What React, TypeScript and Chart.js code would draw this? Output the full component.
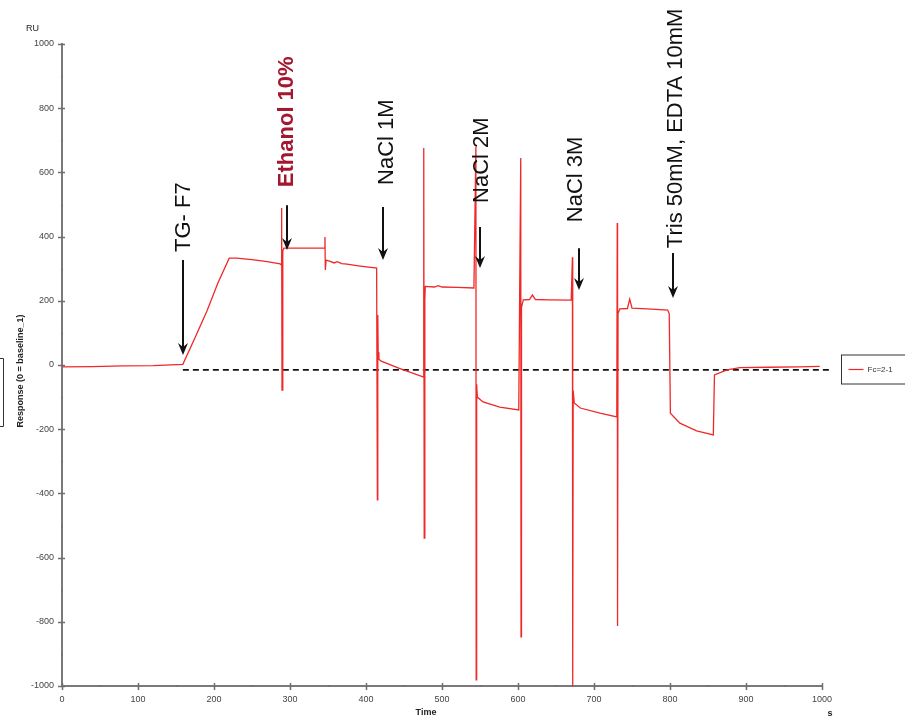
import React, { useEffect, useRef } from "react";
import { Chart, registerables } from "chart.js";

Chart.register(...registerables);

// Sensorgram time (s) and response (RU)
const times = [
  0, 40, 80, 120, 159,
  175, 191, 205, 220, 230, 250, 270, 287,
  288.6, 289, 289.5, 290.5, 292, 320, 345.5,
  346, 346.5, 347.5, 353, 358, 362, 368, 375, 390, 414,
  415, 415.5, 416, 417, 420, 443, 475,
  476, 476.6, 477.4, 478, 490, 495, 500, 520, 542,
  544.6, 545, 545.6, 546.5, 554, 576, 601,
  603.6, 604, 604.6, 607, 615, 619, 623, 640, 670,
  671.6, 672, 672.6, 674, 682, 708, 730,
  730.6, 731, 731.6, 734, 744, 747, 750, 770, 797,
  799, 800.5, 813, 835, 857,
  858.5, 875, 892, 930, 970, 997,
];
const responses = [
  -6, -5, -3, -2, 2,
  85, 170, 255, 333, 333, 328, 322, 315,
  312, 489, -78, 355, 364, 364, 364,
  399, 296, 327, 323, 318, 322, 316, 314, 309, 302,
  -420, 156, 40, 18, 12, -10, -37,
  676, -539, 200, 245, 243, 247, 243, 242, 240,
  680, -981, -60, -100, -115, -131, -140,
  645, -847, 180, 203, 204, 218, 204, 203, 202,
  336, -1000, -80, -118, -134, -150, -162,
  442, -813, 160, 175, 176, 205, 177, 175, 171,
  160, -150, -181, -205, -218,
  -31, -15, -8, -7, -6, -4,
];

// Dashed reference line
const refTimes = [159, 1013];
const refValues = [-15, -15];

// Annotations
const annLabels = ["TG- F7", "Ethanol 10%", "NaCl 1M", "NaCl 2M", "NaCl 3M", "Tris 50mM, EDTA 10mM"];
const annTextTimes = [158.6, 294.7, 426, 551, 675, 807];
const annTextBase = [352, 554, 561, 505, 445, 364];
const annArrowTimes = [159, 296, 422, 550, 680, 804];
const annArrowTop = [327, 498, 492, 430, 364, 349];
const annArrowTip = [31, 358, 327, 302, 234, 209];
const annHighlight = [false, true, false, false, false, false];

const seriesLabel = "Fc=2-1";
const yTicksMajor = 200;
const yTicksMinor = 100;
const xTicksMajor = 100;
const xTicksMinor = 50;

const FONT = "Arial, 'Liberation Sans', sans-serif";

const decorPlugin = {
  id: "decor",
  afterDraw(chart: any) {
    const ctx = chart.ctx;
    const { left, right, top, bottom } = chart.chartArea;
    const xs = chart.scales.x;
    const ys = chart.scales.y;
    ctx.save();
    // ticks
    ctx.strokeStyle = "#6e6e6e";
    for (let v = -1000; v <= 1000; v += yTicksMinor) {
      const py = Math.round(ys.getPixelForValue(v)) + 0.5;
      const major = v % yTicksMajor === 0;
      ctx.lineWidth = 1.5;
      ctx.beginPath();
      if (major) {
        ctx.moveTo(left - 4, py);
        ctx.lineTo(left + 3, py);
      } else {
        ctx.moveTo(left - 1, py);
        ctx.lineTo(left + 1, py);
      }
      ctx.stroke();
    }
    for (let v = 0; v <= 1000; v += xTicksMinor) {
      const px = Math.round(xs.getPixelForValue(v)) + 0.5;
      const major = v % xTicksMajor === 0;
      ctx.lineWidth = 1.5;
      ctx.beginPath();
      if (major) {
        ctx.moveTo(px, bottom - 3);
        ctx.lineTo(px, bottom + 4);
      } else {
        ctx.moveTo(px, bottom - 1);
        ctx.lineTo(px, bottom + 1);
      }
      ctx.stroke();
    }

    // axis titles
    ctx.fillStyle = "#222";
    ctx.font = `9px ${FONT}`;
    ctx.textAlign = "left";
    ctx.textBaseline = "middle";
    ctx.fillText("RU", 26, 29);
    ctx.font = `bold 9px ${FONT}`;
    ctx.textAlign = "center";
    ctx.fillText("Time", 426, 713);
    ctx.fillText("s", right + 8, 714);
    ctx.save();
    ctx.translate(21, (top + bottom) / 2 + 6);
    ctx.rotate(-Math.PI / 2);
    ctx.font = `bold 9px ${FONT}`;
    ctx.fillText("Response (0 = baseline_1)", 0, 0);
    ctx.restore();

    // left cut-off box fragment
    ctx.strokeStyle = "#333";
    ctx.lineWidth = 1;
    ctx.beginPath();
    ctx.moveTo(0, 358.5);
    ctx.lineTo(3.5, 358.5);
    ctx.lineTo(3.5, 426.5);
    ctx.lineTo(0, 426.5);
    ctx.stroke();

    // legend box
    const yc = (top + bottom) / 2 + 4.5;
    const lx = right + 19.5;
    ctx.strokeStyle = "#333";
    ctx.lineWidth = 1;
    ctx.strokeRect(lx, yc - 14.5, 80, 29);
    ctx.strokeStyle = "rgb(240,40,40)";
    ctx.lineWidth = 1.2;
    ctx.beginPath();
    ctx.moveTo(lx + 7, yc);
    ctx.lineTo(lx + 22, yc);
    ctx.stroke();
    ctx.fillStyle = "#333";
    ctx.font = `8px ${FONT}`;
    ctx.textAlign = "left";
    ctx.textBaseline = "middle";
    ctx.fillText(seriesLabel, lx + 26, yc);

    // annotations
    for (let i = 0; i < annLabels.length; i++) {
      const tx = xs.getPixelForValue(annTextTimes[i]);
      const ty = ys.getPixelForValue(annTextBase[i]);
      ctx.save();
      ctx.translate(tx, ty);
      ctx.rotate(-Math.PI / 2);
      ctx.font = annHighlight[i] ? `bold 22px ${FONT}` : `22px ${FONT}`;
      ctx.fillStyle = annHighlight[i] ? "#a3172f" : "#111";
      ctx.textAlign = "left";
      ctx.textBaseline = "middle";
      ctx.fillText(annLabels[i], 0, 1);
      ctx.restore();

      const ax = Math.round(xs.getPixelForValue(annArrowTimes[i]));
      const a0 = ys.getPixelForValue(annArrowTop[i]);
      const a1 = ys.getPixelForValue(annArrowTip[i]);
      ctx.strokeStyle = "#111";
      ctx.fillStyle = "#111";
      ctx.lineWidth = 2;
      ctx.beginPath();
      ctx.moveTo(ax, a0);
      ctx.lineTo(ax, a1 - 8);
      ctx.stroke();
      ctx.beginPath();
      ctx.moveTo(ax - 5, a1 - 12);
      ctx.lineTo(ax, a1 - 8);
      ctx.lineTo(ax + 5, a1 - 12);
      ctx.lineTo(ax, a1);
      ctx.closePath();
      ctx.fill();
    }
    ctx.restore();
  },
};

export default function App() {
  const ref = useRef<HTMLCanvasElement | null>(null);
  useEffect(() => {
    if (!ref.current) return;
    const chart = new Chart(ref.current, {
      type: "line",
      data: {
        datasets: [
          {
            label: seriesLabel,
            data: times.map((t, i) => ({ x: t, y: responses[i] })),
            borderColor: "rgb(240,40,40)",
            borderWidth: 1.3,
            pointRadius: 0,
            tension: 0,
          },
          {
            label: "baseline",
            data: refTimes.map((t, i) => ({ x: t, y: refValues[i] })),
            borderColor: "#111",
            borderWidth: 1.8,
            borderDash: [6, 4],
            pointRadius: 0,
            clip: false as any,
          },
        ],
      },
      options: {
        animation: false,
        responsive: false,
        layout: { padding: { left: 0, top: 44, right: 83, bottom: 0 } },
        plugins: { legend: { display: false }, tooltip: { enabled: false } },
        scales: {
          x: {
            type: "linear",
            min: 0,
            max: 1000,
            grid: { display: false, drawTicks: false, tickLength: 0 },
            border: { display: true, color: "#7a7a7a", width: 2 },
            ticks: {
              stepSize: 100,
              padding: 8,
              color: "#444",
              font: { family: FONT, size: 9 },
              maxRotation: 0,
              callback: (v: any) => String(v),
            },
            afterFit: (s: any) => {
              s.height = 33;
            },
          },
          y: {
            type: "linear",
            min: -1000,
            max: 1000,
            grid: { display: false, drawTicks: false, tickLength: 0 },
            border: { display: true, color: "#7a7a7a", width: 2 },
            ticks: {
              stepSize: 200,
              padding: 8,
              color: "#444",
              font: { family: FONT, size: 9 },
              callback: (v: any) => String(v),
            },
            afterFit: (s: any) => {
              s.width = 62;
            },
          },
        },
      },
      plugins: [decorPlugin],
    });
    return () => chart.destroy();
  }, []);
  return (
    <canvas
      ref={ref}
      width={905}
      height={719}
      style={{ position: "fixed", left: 0, top: 0, width: 905, height: 719, display: "block" }}
    />
  );
}
